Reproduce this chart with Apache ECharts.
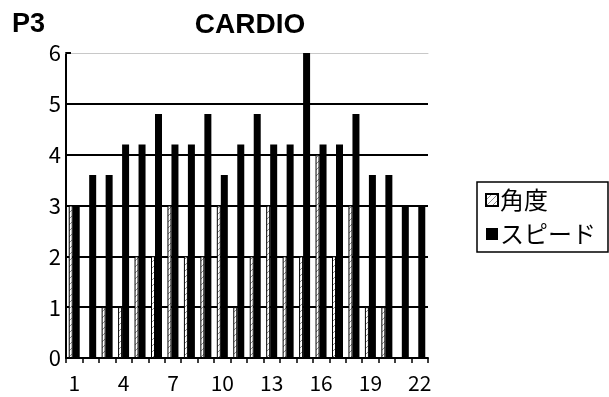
<!DOCTYPE html>
<html>
<head>
<meta charset="utf-8">
<script src="https://cdn.jsdelivr.net/npm/echarts@6/dist/echarts.min.js"></script>
<style>
  html, body { margin: 0; padding: 0; background: #fff; }
  #chart { width: 609px; height: 397px; }
</style>
</head>
<body>
<div id="chart"></div>
<script>
// Session numbers 1..22 with angle and speed settings
const categories = ['1','2','3','4','5','6','7','8','9','10','11','12','13','14','15','16','17','18','19','20','21','22'];
const angleValues = [3, 0, 1, 1, 2, 2, 3, 2, 2, 3, 1, 2, 3, 2, 2, 4, 2, 3, 1, 1, 0, 0];
const speedValues = [3, 3.6, 3.6, 4.2, 4.2, 4.8, 4.2, 4.2, 4.8, 3.6, 4.2, 4.8, 4.2, 4.2, 6, 4.2, 4.2, 4.8, 3.6, 3.6, 3, 3];
const yTicks = [0, 1, 2, 3, 4, 5, 6];
const seriesNames = ['角度', 'スピード'];

// Sparse diagonal hatch fill for the angle bars
function hatchPattern() {
  const c = document.createElement('canvas');
  c.width = 6; c.height = 6;
  const g = c.getContext('2d');
  g.fillStyle = '#ffffff';
  g.fillRect(0, 0, 6, 6);
  g.strokeStyle = '#8a8a8a';
  g.lineWidth = 1;
  g.beginPath();
  g.moveTo(0, 6); g.lineTo(6, 0);
  g.stroke();
  return c;
}

const FONT = '"Noto Sans CJK JP", "Liberation Sans", sans-serif';
const TITLE_FONT = '"Liberation Sans", Arial, sans-serif';
const chart = echarts.init(document.getElementById('chart'), null, { renderer: 'canvas' });

chart.setOption({
  animation: false,
  backgroundColor: '#ffffff',
  title: [
    { text: 'P3', left: 7, top: 6,
      textStyle: { fontFamily: TITLE_FONT, fontWeight: 'bold', fontSize: 27, color: '#000' } },
    { text: 'CARDIO', left: 245, top: 6, textAlign: 'center',
      textStyle: { fontFamily: TITLE_FONT, fontWeight: 'bold', fontSize: 28, color: '#000' } }
  ],
  legend: {
    orient: 'vertical',
    left: 477,
    top: 182,
    itemWidth: 12,
    itemHeight: 12,
    itemGap: 10,
    padding: [6, 12, 6, 8],
    borderColor: '#000',
    borderWidth: 1.5,
    textStyle: { fontFamily: FONT, fontSize: 24, color: '#000', padding: [0, 0, 0, -3] },
    data: seriesNames.map(n => ({ name: n, icon: 'rect' }))
  },
  grid: { left: 66, top: 53, width: 362, height: 305, containLabel: false },
  xAxis: [
    {
      type: 'category',
      data: categories,
      boundaryGap: true,
      axisLine: { lineStyle: { color: '#000', width: 2 } },
      axisTick: { show: true, interval: 0, length: 5, lineStyle: { color: '#000', width: 1.5 } },
      axisLabel: { interval: 2, margin: 15, color: '#000', fontFamily: FONT, fontSize: 21 }
    },
    {
      type: 'category',
      data: categories,
      position: 'top',
      axisLine: { lineStyle: { color: '#c8c8c8', width: 1 } },
      axisTick: { show: false },
      axisLabel: { show: false }
    }
  ],
  yAxis: {
    type: 'value',
    min: yTicks[0],
    max: yTicks[yTicks.length - 1],
    interval: 1,
    axisLine: { show: true, lineStyle: { color: '#000', width: 2 } },
    axisTick: { show: true, inside: true, length: 5, lineStyle: { color: '#000', width: 2 } },
    axisLabel: { margin: 5, color: '#000', fontFamily: FONT, fontSize: 22 },
    splitLine: {
      show: true,
      lineStyle: { color: ['#000', '#000', '#000', '#000', '#000', '#000', 'rgba(0,0,0,0)'], width: 2 }
    }
  },
  series: [
    {
      name: seriesNames[0],
      type: 'bar',
      data: angleValues,
      barWidth: 4,
      barGap: '0%',
      itemStyle: { color: { image: hatchPattern(), repeat: 'repeat' }, borderColor: '#000', borderWidth: 1 }
    },
    {
      name: seriesNames[1],
      type: 'bar',
      data: speedValues,
      barWidth: 7,
      barGap: '0%',
      itemStyle: { color: '#000' }
    }
  ]
});
</script>
</body>
</html>
